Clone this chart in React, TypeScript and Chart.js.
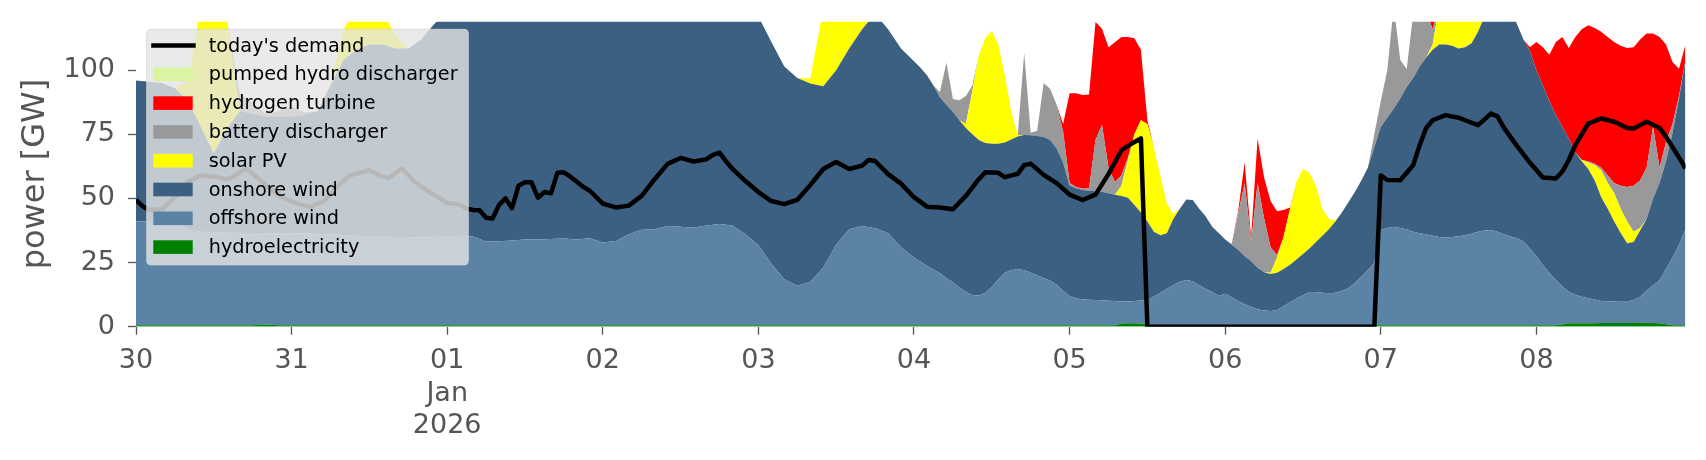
import { useEffect, useRef } from 'react';
import { Chart, registerables } from 'chart.js';

Chart.register(...registerables);

// hours since 30 Dec 00:00 (2-hourly until 118, hourly afterwards)
const hours = [
  0, 2, 4, 6, 8, 10, 12, 14, 16, 18,
  20, 22, 24, 26, 28, 30, 32, 34, 36, 38,
  40, 42, 44, 46, 48, 50, 52, 54, 56, 58,
  60, 62, 64, 66, 68, 70, 72, 74, 76, 78,
  80, 82, 84, 86, 88, 90, 92, 94, 96, 98,
  100, 102, 104, 106, 108, 110, 112, 114, 116, 118,
  120, 121, 122, 123, 124, 125, 126, 127, 128, 129,
  130, 131, 132, 133, 134, 135, 136, 137, 138, 139,
  140, 141, 142, 143, 144, 145, 146, 147, 148, 149,
  150, 151, 152, 153, 154, 155, 156, 157, 158, 159,
  160, 161, 162, 163, 164, 165, 166, 167, 168, 169,
  170, 171, 172, 173, 174, 175, 176, 177, 178, 179,
  180, 181, 182, 183, 184, 185, 186, 187, 188, 189,
  190, 191, 192, 193, 194, 195, 196, 197, 198, 199,
  200, 201, 202, 203, 204, 205, 206, 207, 208, 209,
  210, 211, 212, 213, 214, 215, 216, 217, 218, 219,
  220, 221, 222, 223, 224, 225, 226, 227, 228, 229,
  230, 231, 232, 233, 234, 235, 236, 237, 238, 239,
];

const hydroelectricity = [
  0.6, 0.6, 0.6, 0.6, 0.6, 0.6, 0.6, 0.6, 0.6, 0.6,
  0.9, 0.6, 0.6, 0.6, 0.6, 0.6, 0.6, 0.6, 0.6, 0.6,
  0.6, 0.6, 0.6, 0.6, 0.6, 0.6, 0.6, 0.6, 0.6, 0.6,
  0.6, 0.6, 0.6, 0.6, 0.6, 0.6, 0.6, 0.6, 0.6, 0.6,
  0.6, 0.6, 0.6, 0.6, 0.6, 0.6, 0.6, 0.6, 0.6, 0.6,
  0.6, 0.6, 0.6, 0.6, 0.6, 0.6, 0.6, 0.6, 0.6, 0.6,
  0.6, 0.6, 0.6, 0.6, 0.6, 0.6, 0.6, 0.6, 0.6, 0.6,
  0.6, 0.6, 0.6, 0.6, 0.6, 0.6, 0.6, 0.6, 0.6, 0.6,
  0.6, 0.6, 0.6, 0.6, 0.6, 0.6, 0.6, 0.6, 0.6, 0.6,
  0.6, 0.6, 1.2, 1.3, 1.3, 1.2, 1.0, 0.6, 0.6, 0.6,
  0.6, 0.6, 0.6, 0.6, 0.6, 0.6, 0.6, 0.6, 0.6, 0.6,
  0.6, 0.6, 0.6, 0.6, 0.6, 0.6, 0.6, 0.6, 0.6, 0.6,
  0.6, 0.6, 0.6, 0.6, 0.6, 0.6, 0.6, 0.6, 0.6, 0.6,
  0.6, 0.6, 0.6, 0.6, 0.6, 0.6, 0.6, 0.6, 0.6, 0.6,
  0.6, 0.6, 0.6, 0.6, 0.6, 0.6, 0.6, 0.6, 0.6, 0.6,
  0.6, 0.6, 0.6, 0.6, 0.6, 0.6, 0.6, 0.6, 0.6, 0.6,
  0.9, 1.3, 1.3, 1.3, 1.3, 1.3, 1.4, 1.4, 1.4, 1.4,
  1.4, 1.4, 1.4, 1.5, 1.4, 1.3, 1.0, 0.6, 0.6, 0.6,
];

const offshoreWind = [
  40.4, 40.4, 40.4, 39.9, 37.4, 36.4, 36.2, 36.0, 35.9, 35.9,
  35.5, 35.8, 35.8, 35.7, 35.6, 35.4, 35.2, 34.9, 34.7, 34.6,
  34.4, 34.4, 34.2, 34.4, 34.6, 34.9, 34.6, 32.6, 32.7, 33.0,
  33.4, 33.4, 33.6, 33.8, 33.4, 33.9, 32.2, 32.8, 35.4, 37.2,
  37.4, 38.7, 38.4, 38.0, 38.9, 39.4, 38.9, 35.4, 31.2, 23.9,
  17.9, 15.4, 16.9, 22.4, 31.4, 37.4, 38.7, 37.8, 35.9, 30.4,
  26.4, 24.7, 23.2, 21.7, 20.2, 18.4, 16.6, 14.7, 13.0, 11.8,
  11.6, 12.6, 14.9, 17.9, 20.4, 21.4, 21.9, 21.4, 20.4, 19.4,
  18.4, 17.4, 15.9, 13.4, 11.4, 10.4, 10.1, 9.9, 9.8, 9.7,
  9.5, 9.4, 8.6, 8.5, 8.7, 9.0, 9.5, 11.2, 12.6, 14.1,
  15.7, 16.9, 17.6, 17.1, 15.6, 14.2, 12.9, 11.4, 12.2, 10.9,
  9.4, 8.2, 7.2, 6.2, 5.7, 5.5, 5.9, 7.4, 8.9, 10.4,
  11.7, 12.9, 12.9, 12.6, 12.4, 12.6, 13.4, 14.4, 16.4, 18.9,
  21.4, 24.4, 37.1, 37.9, 38.4, 37.9, 37.4, 36.4, 35.8, 35.4,
  34.9, 34.4, 34.1, 34.4, 34.7, 35.1, 35.6, 36.4, 36.9, 37.1,
  36.4, 35.4, 34.6, 33.9, 32.6, 29.9, 26.9, 23.4, 20.4, 17.6,
  14.9, 12.3, 11.2, 10.4, 9.8, 9.3, 8.6, 8.5, 8.4, 8.3,
  8.3, 9.1, 10.3, 12.5, 14.8, 16.7, 21.5, 26.4, 31.4, 37.4,
];

const onshoreWind = [
  55, 54.5, 54, 52.5, 50, 41, 30.7, 40.4, 47.5, 46.5,
  45.6, 45.6, 45.6, 46.2, 47.8, 58, 68.2, 72.5, 74.7, 74.8,
  73.5, 73.5, 77.2, 83, 87.8, 91.5, 94.8, 98.8, 99.7, 100.4,
  101, 101, 99.8, 99.6, 99, 97.5, 98.2, 97.6, 96, 95.2,
  96, 95.7, 96, 96.4, 94.5, 93, 91.5, 91, 89.2, 86.5,
  83, 81, 77.3, 70.8, 68, 70.5, 76.7, 83.6, 79.5, 77.5,
  76.5, 75.7, 74.2, 71.7, 68.7, 67.5, 66.6, 65.2, 63.9, 62.6,
  60.6, 58.4, 55.8, 52.8, 50.8, 51, 51.7, 52.7, 53.6, 54.4,
  55, 54.8, 53, 50, 43, 43, 42.6, 42.5, 42.4, 42.3,
  41.9, 41.4, 41.2, 40.5, 37.5, 34.3, 30.5, 25.2, 22.5, 21.7,
  25.7, 28.5, 31.4, 31.7, 29.8, 28.2, 25.5, 24.5, 21.2, 20.5,
  20, 18.7, 17.7, 16.2, 14.9, 14.4, 14.5, 14.5, 14.7, 15.2,
  16, 17, 19.5, 22.3, 25, 27.8, 30.5, 33.5, 35.5, 37.5,
  40, 45, 40.3, 43, 46, 50.5, 55.5, 60, 65.1, 69,
  72.5, 75, 75.3, 74.5, 73.2, 73.3, 74.3, 78, 83.5, 86.3,
  89, 90, 88.8, 83.5, 78.8, 77, 72.5, 70, 67, 64.3,
  62.2, 59.8, 55.5, 52.8, 50.4, 46.4, 40.5, 36.1, 31.2, 26.8,
  22.8, 22.5, 25.8, 28, 33.8, 38, 42, 48.5, 57, 66,
];

const solarPV = [
  0, 0, 0, 0, 8, 47, 57, 43, 0, 0,
  0, 0, 0, 0, 0, 1, 12, 16, 15, 13,
  5, 0, 0, 0, 0, 0, 0, 0, 0, 0,
  0, 0, 0, 0, 0, 0, 0, 0, 0, 0,
  0, 0, 0, 0, 0, 0, 0, 0, 0, 0,
  0, 0, 2, 30, 30, 20, 4, 0, 0, 0,
  0, 0, 0, 0, 0, 0, 0, 0, 1.5, 17,
  33, 41, 44, 38.7, 26.2, 11, 0.5, 0, 0, 0,
  0, 0, 0, 0, 0, 0, 0, 0, 0, 0,
  0, 0, 4, 14.7, 27.5, 36, 38, 33, 23, 11.6,
  2, 0, 0, 0, 0, 0, 0, 0, 0, 0,
  0, 0, 0, 0, 0, 0.5, 6, 12.5, 21.8, 30.3,
  33.2, 29.5, 22, 10.5, 4, 0.5, 0, 0, 0, 0,
  0, 0, 0, 0, 0, 0, 0, 0, 0, 0,
  2, 15, 20, 22, 22, 20, 14, 6, 1, 0,
  0, 0, 0, 0, 0, 0, 0, 0, 0, 0,
  0, 0, 0, 0.5, 2.5, 6, 10.5, 10, 11, 9.5,
  8.5, 4, 1, 0, 0, 0, 0, 0, 0, 0,
];

const batteryDischarger = [
  0, 0, 0, 0, 0, 0, 0, 0, 7, 4,
  1, 2, 4, 1, 0, 0, 0, 0, 0, 0,
  0, 0, 0, 0, 0, 0, 0, 0, 0, 0,
  0, 0, 0, 0, 0, 0, 0, 0, 0, 0,
  0, 0, 0, 0, 0, 0, 0, 0, 0, 0,
  0, 0, 0, 0, 0, 0, 0, 0, 0, 0,
  0, 0, 0, 0, 2, 16.5, 5, 7.8, 11, 2,
  0, 0, 0, 0, 0, 0, 0, 32, 1, 2,
  21, 20, 17, 12, 1, 0.5, 0.5, 1, 20, 26,
  10, 5, 4, 1, 0, 0, 0, 0, 0, 0,
  0, 0, 0, 0, 0, 0, 0, 0, 0, 0.3,
  14, 28.5, 7.5, 33, 21, 10, 1, 0, 0, 0,
  0, 0, 0, 0, 0, 0, 0, 0, 0, 0,
  0, 5, 10, 18.5, 40, 15, 7, 25, 22, 18,
  6, 0, 0, 0, 0, 0, 0, 0, 0, 0,
  0, 0, 0, 0, 0, 0, 0, 0, 0, 0,
  0, 0, 0, 0, 0.5, 0.5, 1, 3, 4, 9,
  13.5, 18, 18.5, 20, 28, 6, 7.5, 3.5, 1, 0,
];

const hydrogenTurbine = [
  0, 0, 0, 0, 0, 0, 0, 0, 0, 0,
  0, 0, 0, 0, 0, 0, 0, 0, 0, 0,
  0, 0, 0, 0, 0, 0, 0, 0, 0, 0,
  0, 0, 0, 0, 0, 0, 0, 0, 0, 0,
  0, 0, 0, 0, 0, 0, 0, 0, 0, 0,
  0, 0, 0, 0, 0, 0, 0, 0, 0, 0,
  0, 0, 0, 0, 0, 0, 0, 0, 0, 0,
  0, 0, 0, 0, 0, 0, 0, 0, 0, 0,
  0, 0, 0, 3, 35, 36.5, 36.5, 36.5, 46, 37.6,
  47, 54.5, 54, 47, 37.5, 27.5, 1.5, 0, 0, 0,
  0, 0, 0, 0, 0, 0, 0, 0, 0, 0,
  1, 8, 2, 17.4, 16, 18, 17, 10.5, 0.5, 0,
  0, 0, 0, 0, 0, 0, 0, 0, 0, 0,
  0, 0, 0, 0, 0, 0, 0, 0, 0, 0,
  8, 0, 0, 0, 0, 0, 0, 0, 0, 0,
  0, 0, 0, 0, 0, 1.5, 11, 15, 18, 28.5,
  35, 35.3, 45, 51, 53, 53, 53, 54, 55, 54.5,
  54.2, 54, 55, 52.3, 36.3, 51, 38, 24.2, 10.6, 6,
];

const pumpedHydroDischarger = [
  0, 0, 0, 0, 0, 0, 0, 0, 0, 0,
  0, 0, 0, 0, 0, 0, 0, 0, 0, 0,
  0, 0, 0, 0, 0, 0, 0, 0, 0, 0,
  0, 0, 0, 0, 0, 0, 0, 0, 0, 0,
  0, 0, 0, 0, 0, 0, 0, 0, 0, 0,
  0, 0, 0, 0, 0, 0, 0, 0, 0, 0,
  0, 0, 0, 0, 0, 0, 0, 0, 0, 0,
  0, 0, 0, 0, 0, 0, 0, 0, 0, 0,
  0, 0, 0, 0, 0, 0, 0, 0, 0, 0,
  0, 0, 0, 0, 0, 0, 0, 0, 0, 0,
  0, 0, 0, 0, 0, 0, 0, 0, 0, 0,
  0, 0, 0, 0, 0, 0, 0, 0, 0, 0,
  0, 0, 0, 0, 0, 0, 0, 0, 0, 0,
  0, 0, 0, 0, 0, 0, 0, 0, 0, 0,
  0, 0, 0, 0, 0, 0, 0, 0, 0, 0,
  0, 0, 0, 0, 0, 0, 0, 0, 0, 0,
  0, 0, 0, 0, 0, 0, 0, 0, 0, 0,
  0, 0, 0, 0, 0, 0, 0, 0, 0, 0,
];

const demandHours = [
  0, 1, 2, 4, 6, 8, 10, 12, 14, 15,
  17, 19, 21, 23, 25, 27, 29, 31, 33, 36,
  38, 39, 41, 43, 45, 48, 50, 51, 52, 53,
  54, 55, 56, 57, 58, 59, 60, 61, 62, 63,
  64, 65, 66, 67, 68, 69, 70, 71, 72, 74,
  76, 78, 80, 82, 84, 86, 88, 89, 90, 91,
  92, 94, 96, 98, 100, 102, 104, 106, 108, 110,
  112, 113, 114, 116, 118, 120, 122, 124, 126, 128,
  130, 131, 133, 134, 136, 137, 138, 140, 142, 144,
  146, 148, 150, 152, 153, 154, 155, 156, 191, 192,
  193, 195, 196, 197, 198, 199, 200, 202, 204, 205,
  207, 209, 210, 211, 213, 215, 217, 219, 220, 221,
  222, 224, 226, 228, 230, 231, 233, 235, 236, 237,
  238, 239,
];

const demandValues = [
  49.5, 47, 45.5, 45.8, 50.5, 56.5, 59, 58.5, 57.5, 58.5,
  61.7, 57.5, 53, 50, 47.8, 46.8, 49, 54.5, 59, 61,
  58.5, 58, 61.7, 56.5, 52.8, 48.3, 47.5, 46, 45.5, 45.4,
  42.5, 42.2, 47.5, 50, 46.2, 55, 56.3, 56.3, 50.3, 52.5,
  52, 60, 60.2, 58.5, 56.5, 54.5, 53, 50.5, 48, 46.5,
  47.2, 51, 57.5, 63.5, 65.8, 64.4, 65.3, 67, 67.9, 64.5,
  61.5, 56.8, 52.5, 49, 47.8, 49.5, 55.2, 61.5, 64.2, 61.5,
  62.8, 65, 64.6, 59.5, 55.8, 50.5, 46.8, 46.5, 45.8, 51,
  57.5, 60.2, 60, 58.3, 59.6, 63, 63.6, 59.2, 56, 51.5,
  49.4, 51.5, 59.5, 68.8, 70.5, 72, 73.4, 0, 0, 59,
  57.2, 57.1, 60, 63, 70.8, 77.5, 80.5, 82.5, 81.5, 80.5,
  78.6, 83.1, 82, 77.5, 70.5, 64, 58.2, 57.8, 60.5, 65,
  70.8, 79.2, 81.2, 79.9, 77.5, 77.3, 79.9, 77.5, 74, 70,
  66, 61.7,
];

const yTicks = [0, 25, 50, 75, 100];
const xTickHours = [0, 24, 48, 72, 96, 120, 144, 168, 192, 216];
const xTickLabels = [['30'], ['31'], ['01', 'Jan', '2026'], ['02'], ['03'], ['04'], ['05'], ['06'], ['07'], ['08']];

const FONT = "'DejaVu Sans', 'Liberation Sans', sans-serif";

const boxLegend = {
  id: 'boxLegend',
  afterDraw(chart: any) {
    const { ctx, chartArea: a } = chart;
    const ds = chart.data.datasets;
    const items = [ds[7], ds[6], ds[5], ds[4], ds[3], ds[2], ds[1], ds[0]];
    const x0 = a.left + 10.7;
    const y0 = a.top + 7.8;
    const w = 321.6;
    const h = 235.7;
    ctx.save();
    ctx.beginPath();
    if (ctx.roundRect) ctx.roundRect(x0, y0, w, h, 4);
    else ctx.rect(x0, y0, w, h);
    ctx.fillStyle = 'rgba(229,229,229,0.8)';
    ctx.fill();
    ctx.lineWidth = 1;
    ctx.strokeStyle = 'rgba(214,214,214,0.8)';
    ctx.stroke();
    ctx.font = `19.3px ${FONT}`;
    ctx.textBaseline = 'middle';
    ctx.textAlign = 'left';
    items.forEach((d: any, i: number) => {
      const cy = y0 + 16.2 + i * 28.8;
      if (i === 0) {
        ctx.strokeStyle = '#000';
        ctx.lineWidth = 4.5;
        ctx.beginPath();
        ctx.moveTo(x0 + 4.5, cy);
        ctx.lineTo(x0 + 49, cy);
        ctx.stroke();
      } else {
        ctx.fillStyle = d.backgroundColor;
        ctx.fillRect(x0 + 6.6, cy - 6.8, 39.4, 13.6);
      }
      ctx.fillStyle = '#000';
      ctx.fillText(d.label, x0 + 62, cy + 1);
    });
    ctx.restore();
  },
};

export default function App() {
  const canvasRef = useRef<HTMLCanvasElement>(null);

  useEffect(() => {
    const canvas = canvasRef.current;
    if (!canvas) return;
    const stacks = [
      { label: 'hydroelectricity', data: hydroelectricity, color: '#008000' },
      { label: 'offshore wind', data: offshoreWind, color: '#5b83a5' },
      { label: 'onshore wind', data: onshoreWind, color: '#3b6082' },
      { label: 'solar PV', data: solarPV, color: '#ffff00' },
      { label: 'battery discharger', data: batteryDischarger, color: '#999999' },
      { label: 'hydrogen turbine', data: hydrogenTurbine, color: '#ff0000' },
      { label: 'pumped hydro discharger', data: pumpedHydroDischarger, color: '#daf5a2' },
    ];
    const datasets: any[] = stacks.map((s, i) => ({
      type: 'line',
      label: s.label,
      data: s.data,
      backgroundColor: s.color,
      borderColor: 'rgba(0,0,0,0)',
      borderWidth: 0,
      pointRadius: 0,
      pointHoverRadius: 0,
      fill: i === 0 ? 'origin' : '-1',
      stack: 'generation',
      order: 1,
      tension: 0,
    }));
    datasets.push({
      type: 'line',
      label: "today's demand",
      data: demandHours.map((h, i) => ({ x: h, y: demandValues[i] })),
      borderColor: '#000000',
      backgroundColor: '#000000',
      borderWidth: 4.5,
      pointRadius: 0,
      pointHoverRadius: 0,
      fill: false,
      stack: 'demand',
      order: 0,
      tension: 0,
      borderJoinStyle: 'round',
    });

    const chart = new Chart(canvas, {
      type: 'line',
      data: { labels: hours, datasets },
      options: {
        responsive: false,
        animation: false,
        devicePixelRatio: 1,
        events: [],
        layout: { padding: { left: 0, right: 20.5, top: 21.5, bottom: 0 } },
        plugins: { legend: { display: false }, tooltip: { enabled: false } },
        scales: {
          x: {
            type: 'linear',
            min: 0,
            max: 239,
            afterBuildTicks: (scale: any) => {
              scale.ticks = xTickHours.map((v) => ({ value: v }));
            },
            afterFit: (scale: any) => {
              scale.height = 133.3;
              scale.paddingLeft = 0;
              scale.paddingRight = 0;
            },
            ticks: {
              autoSkip: false,
              maxRotation: 0,
              minRotation: 0,
              color: '#555555',
              padding: 10.5,
              font: { family: FONT, size: 27, lineHeight: 1.2 },
              callback: (_v: any, i: number) => xTickLabels[i],
            },
            grid: { drawOnChartArea: false, drawTicks: true, tickLength: 8, tickColor: '#555555', tickWidth: 1.3 },
            border: { display: false },
          },
          y: {
            type: 'linear',
            stacked: true,
            min: 0,
            max: 119,
            afterBuildTicks: (scale: any) => {
              scale.ticks = yTicks.map((v) => ({ value: v }));
            },
            afterFit: (scale: any) => {
              scale.width = 136;
              scale.paddingTop = 0;
              scale.paddingBottom = 0;
            },
            ticks: {
              color: '#555555',
              padding: 13,
              font: { family: FONT, size: 27 },
            },
            grid: { drawOnChartArea: false, drawTicks: true, tickLength: 8, tickColor: '#555555', tickWidth: 1.3 },
            border: { display: false },
            title: {
              display: true,
              text: 'power [GW]',
              color: '#555555',
              font: { family: FONT, size: 32 },
              padding: { top: 16, bottom: 0 },
            },
          },
        },
      },
      plugins: [boxLegend],
    } as any);

    return () => chart.destroy();
  }, []);

  return (
    <div style={{ position: 'absolute', left: 0, top: 0, width: 1706, height: 460, background: '#ffffff' }}>
      <canvas ref={canvasRef} width={1706} height={460} style={{ display: 'block', width: 1706, height: 460 }} />
    </div>
  );
}
